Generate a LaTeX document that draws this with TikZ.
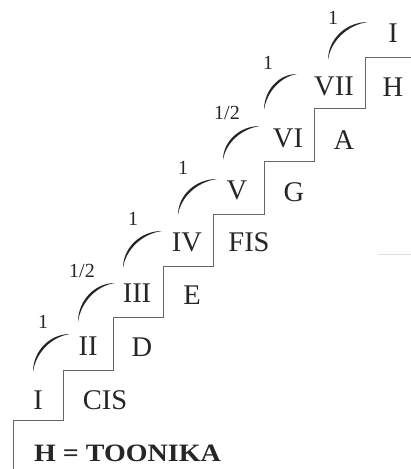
\documentclass[tikz,border=0pt]{standalone}
\usepackage{fontspec}
\setmainfont{Liberation Serif}
\tikzset{
  lbl/.style={inner sep=0pt, text=black!85, font=\fontsize{28.5}{28.5}\selectfont},
  frac/.style={inner sep=0pt, text=black!85, font=\fontsize{20}{20}\selectfont},
  stair/.style={draw=black!60, line width=0.9pt},
}
\newcommand\myslur[4]{%
  \pgfmathsetmacro\ca{#2-0.55*(#2-#4)}%
  \pgfmathsetmacro\cb{#3-0.55*(#3-#1)}%
  \pgfmathsetmacro\cax{#1+2.8}%
  \pgfmathsetmacro\cay{\ca+1.6}%
  \pgfmathsetmacro\cbx{\cb+1.6}%
  \pgfmathsetmacro\cby{#4+2.8}%
  \fill[black!85] (#1,#2) .. controls (#1,\ca) and (\cb,#4) .. (#3,#4)
     .. controls (\cbx,\cby) and (\cax,\cay) .. (#1,#2);%
}
\begin{document}
\begin{tikzpicture}[x=1pt,y=-1pt]
\useasboundingbox (0,0) rectangle (411,469);
% staircase
\draw[stair] (13,469) -- (13,420) -- (63,420) -- (63,370) -- (113,370) -- (113,317)
  -- (163,317) -- (163,266) -- (213,266) -- (213,214) -- (264,214) -- (264,161)
  -- (314,161) -- (314,108) -- (365,108) -- (365,57) -- (411,57);
\draw[black!12, line width=0.8pt] (378,254) -- (411,254);
% roman numerals
\node[lbl] (r1) at (38,400) {I};
\node[lbl] (r2) at (88,346) {II};
\node[lbl] (r3) at (137,293) {III};
\node[lbl] (r4) at (187,242) {IV};
\node[lbl] (r5) at (237,190) {V};
\node[lbl] (r6) at (288,138) {VI};
\node[lbl] (r7) at (334,86) {VII};
\node[lbl] (r8) at (393,33) {I};
% note names
\node[lbl] (n1) at (105,400) {CIS};
\node[lbl] (n2) at (142,347) {D};
\node[lbl] (n3) at (192,295) {E};
\node[lbl] (n4) at (249,242) {FIS};
\node[lbl] (n5) at (294,192) {G};
\node[lbl] (n6) at (344,140) {A};
\node[lbl] (n7) at (393,87) {H};
% interval labels
\node[frac] (f1) at (43,322) {1};
\node[frac] (f2) at (82,271) {1/2};
\node[frac] (f3) at (133,219) {1};
\node[frac] (f4) at (183,168) {1};
\node[frac] (f5) at (227,113) {1/2};
\node[frac] (f6) at (268,63) {1};
\node[frac] (f7) at (333,18) {1};
% slurs
\myslur{33}{372}{70}{334}
\myslur{78}{322}{115}{283}
\myslur{123}{268}{162}{231}
\myslur{178}{215}{217}{179}
\myslur{223}{160}{260}{126}
\myslur{264}{110}{297}{74}
\myslur{328}{60}{368}{22}
% caption
\node[inner sep=0pt, text=black!85] (cap) at (127.5,453)
  {\scalebox{1.12}[1]{\fontsize{25}{25}\selectfont\bfseries H = TOONIKA}};
\end{tikzpicture}
\end{document}
